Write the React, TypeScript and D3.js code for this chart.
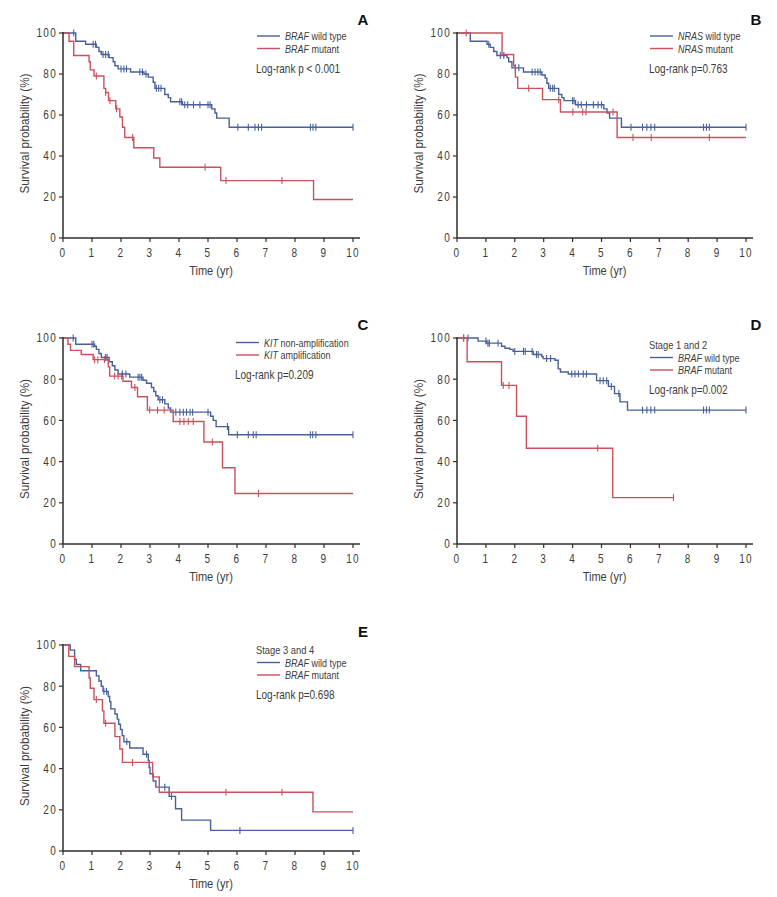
import React from "react";
import * as d3 from "d3";

// ---------- Data (time in years, survival in %) ----------
// Panel A: BRAF
const aWtTimes = [0.44, 0.78, 1.15, 1.24, 1.32, 1.59, 1.73, 1.79, 1.9, 2.33, 2.79, 2.94, 3.11, 3.17, 3.51, 3.63, 3.71, 4.12, 5.13, 5.24, 5.3, 5.73];
const aWtSurv = [96, 94.5, 93, 91, 89.5, 88, 86, 84, 82.5, 81, 80, 78.5, 76, 73, 70, 68.5, 66.5, 65, 63, 61, 58.5, 54];
const aWtCensor = [0.37, 1.04, 1.12, 1.38, 1.47, 1.56, 2.0, 2.1, 2.19, 2.65, 2.74, 2.86, 3.22, 3.3, 3.38, 4.03, 4.09, 4.2, 4.3, 4.5, 4.72, 5.0, 5.07, 6.03, 6.39, 6.62, 6.74, 6.85, 8.53, 8.62, 8.72, 10];
const aMuTimes = [0.21, 0.37, 0.9, 0.94, 1.07, 1.41, 1.47, 1.57, 1.82, 1.96, 2.05, 2.13, 2.44, 3.13, 3.34, 5.44, 8.64];
const aMuSurv = [96, 89, 86, 82, 79, 73, 71, 67, 63, 59, 54, 49, 44, 39, 34.5, 28, 18.8];
const aMuCensor = [1.15, 1.47, 1.62, 1.85, 2.4, 4.9, 5.62, 7.55];

// Panel B: NRAS
const bWtTimes = [0.46, 1.04, 1.15, 1.27, 1.38, 1.73, 1.79, 1.9, 2.3, 2.94, 3.05, 3.11, 3.17, 3.52, 3.63, 3.7, 4.1, 5.08, 5.19, 5.28, 5.69];
const bWtSurv = [96, 94.5, 93, 91, 89, 88, 86, 83, 81, 79.5, 78, 75.5, 73, 70, 68.5, 67, 65, 63, 61, 58.5, 54];
const bWtCensor = [1.1, 1.5, 1.62, 2.02, 2.14, 2.6, 2.7, 2.8, 2.88, 3.23, 3.31, 3.37, 4.0, 4.05, 4.19, 4.3, 4.48, 4.72, 4.88, 5.0, 6.02, 6.42, 6.57, 6.71, 6.84, 8.53, 8.63, 8.73, 10];
const bMuTimes = [1.56, 1.96, 2.02, 2.1, 2.96, 3.58, 5.54];
const bMuSurv = [89.5, 84, 78.5, 73, 67.5, 61.5, 49];
const bMuCensor = [0.32, 2.48, 3.52, 4.01, 4.35, 4.46, 5.4, 6.09, 6.72, 8.73];

// Panel C: KIT
const cNaTimes = [0.44, 1.09, 1.15, 1.24, 1.32, 1.59, 1.7, 1.79, 1.9, 2.3, 2.76, 2.88, 3.05, 3.13, 3.2, 3.28, 3.51, 3.63, 3.71, 5.09, 5.18, 5.28, 5.71];
const cNaSurv = [97, 96, 94.5, 92.5, 90.5, 88.5, 86.5, 84.5, 82.5, 81, 79.5, 78, 76, 74, 72, 70, 68, 66, 64, 62, 60, 57, 53];
const cNaCensor = [0.35, 1.0, 1.06, 1.47, 1.52, 2.05, 2.17, 2.59, 2.65, 2.71, 3.34, 3.43, 3.89, 4.03, 4.15, 4.26, 4.38, 4.47, 5.0, 5.67, 6.01, 6.39, 6.56, 6.66, 8.53, 8.61, 8.72, 10];
const cAmTimes = [0.17, 0.26, 0.63, 1.04, 1.56, 1.61, 2.07, 2.36, 2.57, 2.91, 3.8, 4.86, 5.5, 5.93];
const cAmSurv = [97, 94, 92, 89.5, 86, 81.5, 79, 76, 71.5, 65, 59.5, 49.5, 37, 24.5];
const cAmCensor = [1.09, 1.2, 1.43, 1.78, 1.9, 2.02, 2.48, 2.99, 3.26, 3.49, 4.03, 4.17, 4.32, 4.49, 5.15, 6.74];

// Panel D: Stage 1 and 2, BRAF
const dWtTimes = [0.73, 1.02, 1.54, 1.66, 1.83, 1.94, 2.64, 2.93, 2.98, 3.39, 3.5, 3.58, 3.85, 4.83, 5.24, 5.45, 5.64, 5.9];
const dWtSurv = [98.5, 97.5, 96, 95, 94.5, 93.5, 92, 91, 90, 89.2, 85, 83.5, 82.5, 79.3, 76.5, 73, 69, 65];
const dWtCensor = [0.23, 0.38, 1.0, 1.07, 1.12, 1.42, 2.0, 2.3, 2.36, 2.6, 2.75, 2.81, 3.1, 3.24, 3.97, 4.08, 4.2, 4.37, 4.48, 4.95, 5.06, 5.18, 5.34, 5.6, 6.42, 6.57, 6.71, 6.84, 8.53, 8.63, 8.73, 10];
const dMuTimes = [0.35, 1.54, 2.06, 2.4, 5.39];
const dMuSurv = [88.5, 77, 62, 46.5, 22.5];
const dMuCensor = [0.23, 1.6, 1.8, 4.87, 7.49];

// Panel E: Stage 3 and 4, BRAF
const eWtTimes = [0.25, 0.4, 0.46, 0.61, 1.15, 1.24, 1.32, 1.38, 1.56, 1.61, 1.65, 1.79, 1.87, 1.92, 1.98, 2.04, 2.1, 2.3, 2.76, 2.94, 2.97, 3.0, 3.11, 3.2, 3.66, 3.88, 4.09, 5.09];
const eWtSurv = [97.5, 93, 90.5, 87.5, 85, 82.5, 80, 77.5, 75, 72.5, 69, 66.5, 64, 61.5, 59, 56, 53, 50, 47, 44, 40.5, 37.5, 34, 31, 26.5, 20.5, 15, 10];
const eWtCensor = [1.41, 1.5, 2.2, 2.88, 3.51, 3.74, 6.1, 10];
const eMuTimes = [0.2, 0.4, 0.9, 0.94, 1.07, 1.36, 1.41, 1.79, 1.96, 2.05, 3.09, 3.32, 8.62];
const eMuSurv = [94.5, 89.5, 84, 79, 73.5, 68, 62, 55.5, 49.5, 43, 36, 28.5, 19];
const eMuCensor = [1.15, 1.47, 2.4, 3.12, 5.62, 7.55];

const xTicks = [0, 1, 2, 3, 4, 5, 6, 7, 8, 9, 10];
const yTicks = [0, 20, 40, 60, 80, 100];

const BLUE = "#48609a";
const RED = "#c9515d";
const AXIS = "#2e2e2e";
const TEXT = "#3c3c3c";
const FONT = "'Liberation Sans', Arial, sans-serif";

type Curve = { times: number[]; surv: number[]; censor: number[]; end: number; color: string };
type Panel = {
  letter: string;
  left: number; right: number; top: number; bottom: number;
  legendX: number; legendY: number;
  heading?: string;
  gene: string; labels: [string, string];
  pval: string;
  curves: Curve[];
};

const panels: Panel[] = [
  { letter: "A", left: 63, right: 353, top: 33, bottom: 238, legendX: 257, legendY: 36, gene: "BRAF", labels: ["wild type", "mutant"], pval: "Log-rank p < 0.001",
    curves: [
      { times: aWtTimes, surv: aWtSurv, censor: aWtCensor, end: 10, color: BLUE },
      { times: aMuTimes, surv: aMuSurv, censor: aMuCensor, end: 10, color: RED },
    ] },
  { letter: "B", left: 457, right: 746, top: 33, bottom: 238, legendX: 650, legendY: 36, gene: "NRAS", labels: ["wild type", "mutant"], pval: "Log-rank p=0.763",
    curves: [
      { times: bWtTimes, surv: bWtSurv, censor: bWtCensor, end: 10, color: BLUE },
      { times: bMuTimes, surv: bMuSurv, censor: bMuCensor, end: 10, color: RED },
    ] },
  { letter: "C", left: 63, right: 353, top: 338, bottom: 544, legendX: 236, legendY: 342.5, gene: "KIT", labels: ["non-amplification", "amplification"], pval: "Log-rank p=0.209",
    curves: [
      { times: cNaTimes, surv: cNaSurv, censor: cNaCensor, end: 10, color: BLUE },
      { times: cAmTimes, surv: cAmSurv, censor: cAmCensor, end: 10, color: RED },
    ] },
  { letter: "D", left: 457, right: 746, top: 338, bottom: 544, legendX: 650, legendY: 357.5, heading: "Stage 1 and 2", gene: "BRAF", labels: ["wild type", "mutant"], pval: "Log-rank p=0.002",
    curves: [
      { times: dWtTimes, surv: dWtSurv, censor: dWtCensor, end: 10, color: BLUE },
      { times: dMuTimes, surv: dMuSurv, censor: dMuCensor, end: 7.49, color: RED },
    ] },
  { letter: "E", left: 63, right: 353, top: 645, bottom: 851, legendX: 257, legendY: 662.5, heading: "Stage 3 and 4", gene: "BRAF", labels: ["wild type", "mutant"], pval: "Log-rank p=0.698",
    curves: [
      { times: eWtTimes, surv: eWtSurv, censor: eWtCensor, end: 10, color: BLUE },
      { times: eMuTimes, surv: eMuSurv, censor: eMuCensor, end: 10, color: RED },
    ] },
];

function survAt(c: Curve, t: number) {
  let s = 100;
  for (let i = 0; i < c.times.length; i++) if (c.times[i] <= t) s = c.surv[i];
  return s;
}

// condensed text: horizontally squeezed Liberation Sans
function CText(props: { x: number; y: number; size: number; sx: number; anchor?: string; rotate?: boolean; ls?: number; children: React.ReactNode }) {
  const { x, y, size, sx, anchor = "start", rotate, ls = 0, children } = props;
  const tr = rotate ? `translate(${x},${y}) rotate(-90) scale(${sx},1)` : `translate(${x},${y}) scale(${sx},1)`;
  return (
    <text transform={tr} fontSize={size} textAnchor={anchor} fill={TEXT} fontFamily={FONT} letterSpacing={ls}>
      {children}
    </text>
  );
}

function PanelView({ p }: { p: Panel }) {
  const x = d3.scaleLinear().domain([0, 10]).range([p.left, p.right]);
  const y = d3.scaleLinear().domain([0, 100]).range([p.bottom, p.top]);
  const line = d3.line<[number, number]>().x((d) => x(d[0])).y((d) => y(d[1])).curve(d3.curveStepAfter);
  const midX = (p.left + p.right) / 2;
  const midY = (p.top + p.bottom) / 2;
  const lh = 12.5;
  return (
    <g>
      {p.curves.map((c, ci) => {
        const pts: [number, number][] = [[0, 100]];
        c.times.forEach((t, i) => pts.push([t, c.surv[i]]));
        pts.push([c.end, c.surv[c.surv.length - 1]]);
        return (
          <g key={ci}>
            <path d={line(pts) || ""} fill="none" stroke={c.color} strokeWidth={1.4} />
            {c.censor.map((t, k) => (
              <line key={k} x1={x(t)} x2={x(t)} y1={y(survAt(c, t)) - 3.5} y2={y(survAt(c, t)) + 3.5} stroke={c.color} strokeWidth={1.1} />
            ))}
          </g>
        );
      })}
      <line x1={p.left} x2={p.left} y1={p.top - 1} y2={p.bottom} stroke={AXIS} strokeWidth={1.5} />
      <line x1={p.left} x2={p.right + 7} y1={p.bottom} y2={p.bottom} stroke={AXIS} strokeWidth={1.5} />
      {yTicks.map((v) => (
        <g key={"y" + v}>
          <line x1={p.left - 4} x2={p.left} y1={y(v)} y2={y(v)} stroke={AXIS} strokeWidth={1.2} />
          <CText x={p.left - 6} y={y(v) + 4.3} size={12.5} sx={0.8} anchor="end" ls={1.6}>{v}</CText>
        </g>
      ))}
      {xTicks.map((v) => (
        <g key={"x" + v}>
          <line x1={x(v)} x2={x(v)} y1={p.bottom} y2={p.bottom + 4} stroke={AXIS} strokeWidth={1.2} />
          <CText x={x(v)} y={p.bottom + 19} size={12.5} sx={0.8} anchor="middle" ls={1.6}>{v}</CText>
        </g>
      ))}
      <CText x={midX + 3} y={p.bottom + 37} size={13} sx={0.85} anchor="middle">Time (yr)</CText>
      <CText x={p.left - 34} y={midY - 2} size={13.5} sx={0.87} anchor="middle" rotate>Survival probability (%)</CText>
      <text x={p.right + 10} y={p.top - 8} textAnchor="middle" fontSize={15} fontWeight="bold" fill="#111" fontFamily={FONT}>{p.letter}</text>
      {p.heading && (
        <CText x={p.legendX - 1} y={p.legendY - lh + 4} size={11} sx={0.85}>{p.heading}</CText>
      )}
      {p.curves.map((c, i) => (
        <g key={"l" + i}>
          <line x1={p.legendX} x2={p.legendX + 23} y1={p.legendY + i * lh} y2={p.legendY + i * lh} stroke={c.color} strokeWidth={1.4} />
          <CText x={p.legendX + 28} y={p.legendY + i * lh + 4} size={11} sx={0.82}>
            <tspan fontStyle="italic">{p.gene}</tspan>
            <tspan> {p.labels[i]}</tspan>
          </CText>
        </g>
      ))}
      <CText x={p.legendX - 1} y={p.legendY + 2 * lh + 11.5} size={12.5} sx={0.8}>{p.pval}</CText>
    </g>
  );
}

export default function App() {
  return (
    <svg width={777} height={897} style={{ position: "absolute", left: 0, top: 0, background: "#fff" }}>
      <rect x={0} y={0} width={777} height={897} fill="#fff" />
      {panels.map((p) => (
        <PanelView key={p.letter} p={p} />
      ))}
    </svg>
  );
}
